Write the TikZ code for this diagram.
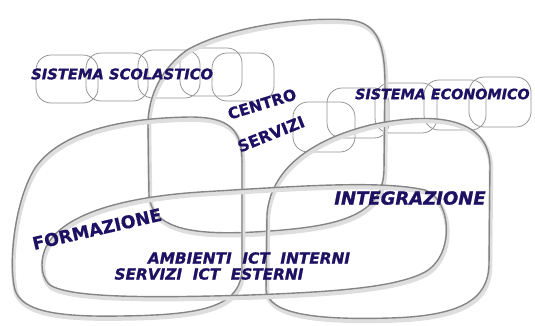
\documentclass[tikz,border=0pt]{standalone}
\usepackage{fontspec}
\setsansfont{DejaVu Sans}[BoldItalicFeatures={FakeBold=1.2},BoldFeatures={FakeBold=0.6}]
\definecolor{inkblue}{RGB}{30,16,98}
\tikzset{
  ring/.style={draw=black!48, line width=1.4pt, line join=round,
    preaction={draw=black!13, line width=4.5pt, transform canvas={xshift=1pt,yshift=-2.5pt}}},
  link/.style={draw=black!42, line width=0.8pt, rounded corners=15pt},
  tag/.style={text=inkblue, font=\sffamily\bfseries\itshape, inner sep=0pt},
}
\begin{document}
\begin{tikzpicture}[x=1pt,y=-1pt]
\useasboundingbox (0,0) rectangle (535,325);
\foreach \cx/\cy in {67/79, 117/77, 169/74, 211/72, 243/77}{
  \draw[link] (\cx-31,\cy-24) rectangle (\cx+31,\cy+24);
}
\foreach \cx/\cy in {324/127, 358/113, 406/108, 455/105, 500/102}{
  \draw[link] (\cx-31,\cy-25) rectangle (\cx+31,\cy+25);
}
\draw[ring] (187,50) .. controls (225,28) and (300,16) .. (350,20)
  .. controls (378,23) and (385,45) .. (385,85) -- (384,170)
  .. controls (383,215) and (340,226) .. (270,231)
  .. controls (200,236) and (152,232) .. (149,195) -- (148,125)
  .. controls (148,95) and (162,68) .. (187,50) -- cycle;
\draw[ring] (242,165) .. controls (243,130) and (230,117) .. (190,117)
  .. controls (120,118) and (60,132) .. (35,168)
  .. controls (15,200) and (8,262) .. (15,290)
  .. controls (22,312) and (60,317) .. (120,316)
  .. controls (200,315) and (240,308) .. (242,270) -- cycle;
\draw[ring] (266,290) -- (267,215) .. controls (270,170) and (310,140) .. (370,125)
  .. controls (430,112) and (488,115) .. (490,165) -- (489,265)
  .. controls (488,300) and (460,316) .. (390,318)
  .. controls (320,320) and (268,315) .. (266,290) -- cycle;
\draw[ring] (42,265) .. controls (42,220) and (110,198) .. (200,192)
  .. controls (300,186) and (380,180) .. (425,190)
  .. controls (452,200) and (455,255) .. (425,272)
  .. controls (395,288) and (330,292) .. (250,295)
  .. controls (150,298) and (70,298) .. (50,285)
  .. controls (44,280) and (42,272) .. (42,265) -- cycle;
\node[tag, anchor=west, font=\sffamily\bfseries\itshape\fontsize{14.7}{14.7}\selectfont] (scolastico) at (31,74) {SISTEMA SCOLASTICO};
\node[tag, anchor=west, font=\sffamily\bfseries\itshape\fontsize{14.3}{14.3}\selectfont] (economico) at (355,94) {SISTEMA ECONOMICO};
\node[tag, rotate=17, font=\sffamily\bfseries\fontsize{15.5}{15.5}\selectfont] (centro) at (262,104) {CENTRO};
\node[tag, rotate=22, font=\sffamily\bfseries\fontsize{16}{16}\selectfont] (servizi) at (271,134) {SERVIZI};
\node[tag, rotate=13, font=\sffamily\bfseries\fontsize{17.5}{17.5}\selectfont] (formazione) at (97,229) {FORMAZIONE};
\node[tag, font=\sffamily\bfseries\itshape\fontsize{18}{18}\selectfont] (integrazione) at (410,198) {INTEGRAZIONE};
\node[tag, font=\sffamily\bfseries\itshape\fontsize{15.3}{15.3}\selectfont] (interni) at (249,258) {AMBIENTI\ \ ICT\ \ INTERNI};
\node[tag, font=\sffamily\bfseries\itshape\fontsize{15.3}{15.3}\selectfont] (esterni) at (209,274) {SERVIZI\ \ ICT\ \ ESTERNI};
\end{tikzpicture}
\end{document}
